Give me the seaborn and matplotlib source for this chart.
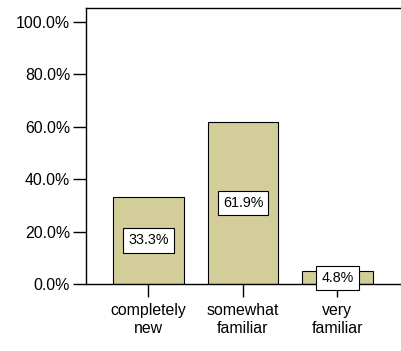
import matplotlib
matplotlib.use("Agg")
import matplotlib.pyplot as plt
import seaborn as sns
import pandas as pd

categories = ["completely\nnew", "somewhat\nfamiliar", "very\nfamiliar"]
percents = [33.3, 61.9, 4.8]
yticks = [0, 20, 40, 60, 80, 100]
ytick_labels = ["0.0%", "20.0%", "40.0%", "60.0%", "80.0%", "100.0%"]

sns.set_theme(style="white")
plt.rcParams["font.family"] = ["Liberation Sans", "DejaVu Sans"]

df = pd.DataFrame({"cat": categories, "pct": percents})

fig = plt.figure(figsize=(4.01, 3.51), dpi=100)
ax = fig.add_axes([86 / 401, 67 / 351, 1 - 86 / 401, 276 / 351])

sns.barplot(data=df, x="cat", y="pct", color="#d3ce99", saturation=1,
            width=0.75, edgecolor="black", linewidth=0.8, ax=ax)

for i, v in enumerate(percents):
    ax.text(i, v / 2, f"{v:.1f}%", ha="center", va="center", fontsize=10.3,
            color="black",
            bbox=dict(boxstyle="square,pad=0.36", facecolor="white",
                      edgecolor="black", linewidth=0.8))

ax.set_xlim(-0.661, 2.672)
ax.set_ylim(0, 105.3)
ax.set_yticks(yticks)
ax.set_yticklabels(ytick_labels)
ax.set_xlabel("")
ax.set_ylabel("")

for s in ["left", "top", "bottom"]:
    ax.spines[s].set_visible(True)
    ax.spines[s].set_color("black")
    ax.spines[s].set_linewidth(1.0)
ax.spines["right"].set_visible(False)

ax.tick_params(axis="y", direction="out", length=9.5, width=1.0, color="black",
               labelsize=11.4, pad=2, left=True, labelcolor="black")
ax.tick_params(axis="x", direction="out", length=9, width=1.0, color="black",
               labelsize=11.4, pad=4.5, bottom=True, labelcolor="black")
for lbl in ax.get_xticklabels():
    lbl.set_linespacing(1.3)

fig.savefig("out.png", dpi=100)
